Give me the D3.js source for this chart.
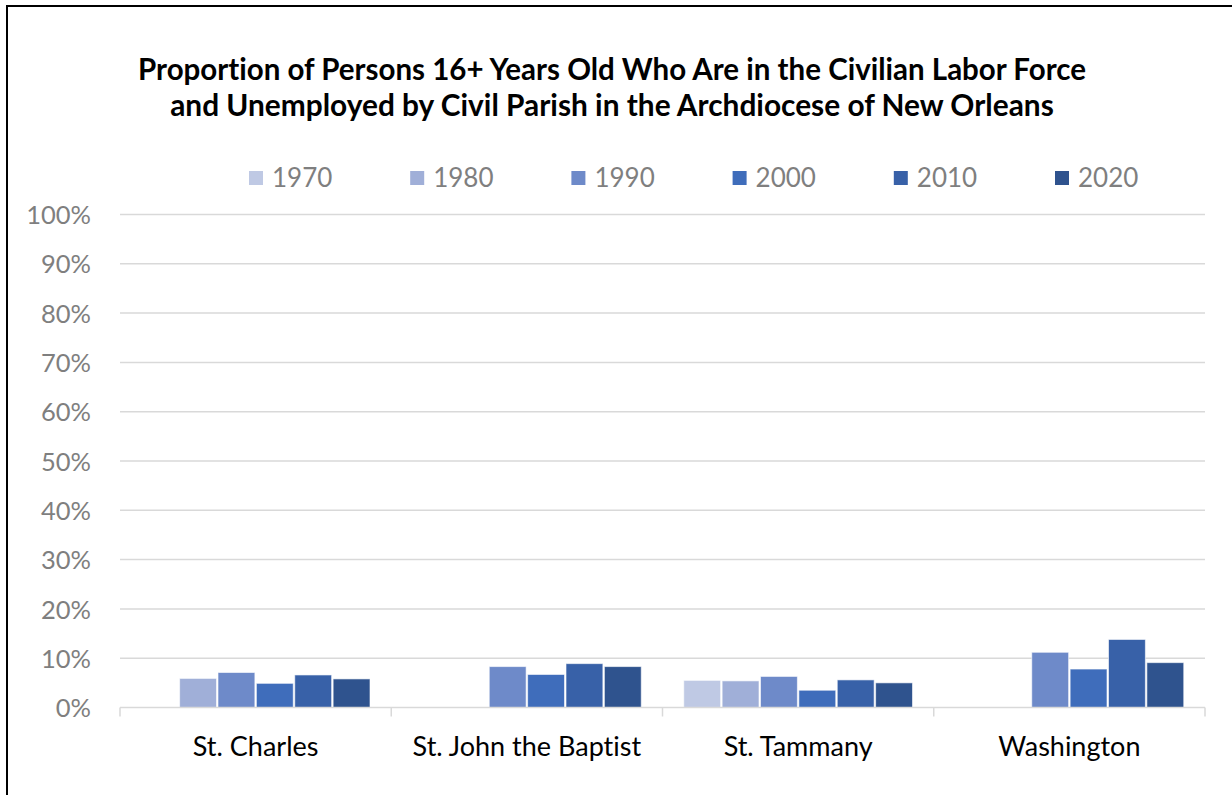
<!DOCTYPE html>
<html>
<head>
<meta charset="utf-8">
<script src="https://cdn.jsdelivr.net/npm/d3@7"></script>
<style>
  html, body { margin: 0; padding: 0; background: #fff; }
  svg { display: block; }
  text { font-family: Lato, "Open Sans", sans-serif; font-variant-ligatures: none; font-feature-settings: "liga" 0; }
</style>
</head>
<body>
<svg id="chart" width="1232" height="795"></svg>
<script>
const titleLines = [
  "Proportion of Persons 16+ Years Old Who Are in the Civilian Labor Force",
  "and Unemployed by Civil Parish in the Archdiocese of New Orleans"
];
const categories = ["St. Charles", "St. John the Baptist", "St. Tammany", "Washington"];
const seriesNames = ["1970", "1980", "1990", "2000", "2010", "2020"];
const seriesColors = ["#bfc9e4", "#a0afd8", "#6e8ac9", "#3f6dbb", "#3861a8", "#2f538e"];
// values in percent, one array per year, indexed by category; null = no bar
const v1970 = [null, null, 5.5, null];
const v1980 = [5.9, null, 5.4, null];
const v1990 = [7.1, 8.3, 6.3, 11.2];
const v2000 = [4.9, 6.7, 3.5, 7.8];
const v2010 = [6.6, 8.9, 5.6, 13.8];
const v2020 = [5.8, 8.3, 5.0, 9.1];
const seriesValues = [v1970, v1980, v1990, v2000, v2010, v2020];
const yTicks = [0, 10, 20, 30, 40, 50, 60, 70, 80, 90, 100];

const svg = d3.select("#chart");

// outer frame
svg.append("rect")
  .attr("x", 7).attr("y", 6)
  .attr("width", 1240).attr("height", 800)
  .attr("fill", "none").attr("stroke", "#000").attr("stroke-width", 2);

const plot = { left: 120, right: 1205, top: 214.5, bottom: 707.5 };

const x0 = d3.scaleBand().domain(categories).range([plot.left, plot.right]).padding(0);
const innerPad = 20.5;
const x1 = d3.scaleBand().domain(seriesNames)
  .range([innerPad, x0.bandwidth() - innerPad]).padding(0);
const y = d3.scaleLinear().domain([0, 100]).range([plot.bottom, plot.top]);

// gridlines
svg.append("g").selectAll("line").data(yTicks.filter(t => t > 0)).join("line")
  .attr("x1", plot.left).attr("x2", plot.right)
  .attr("y1", d => y(d)).attr("y2", d => y(d))
  .attr("stroke", "#d9d9d9").attr("stroke-width", 1.5);

// y-axis labels
const yAxis = d3.axisLeft(y).tickValues(yTicks).tickFormat(d => d + "%").tickSize(0).tickPadding(0);
const yg = svg.append("g").attr("transform", `translate(91,0)`).call(yAxis);
yg.select(".domain").remove();
yg.selectAll("text")
  .attr("fill", "#7f7f7f")
  .style("font-size", "25.5px")
  .style("font-family", "Lato, sans-serif")
  .attr("dy", "0.36em");

// bars
const groups = svg.append("g").selectAll("g").data(categories).join("g")
  .attr("transform", d => `translate(${x0(d)},0)`);
groups.each(function(cat, ci) {
  const bars = seriesNames.map((s, si) => ({ s, si, v: seriesValues[si][ci] }))
    .filter(d => d.v !== null);
  d3.select(this).selectAll("rect").data(bars).join("rect")
    .attr("x", d => x1(d.s) + 0.75)
    .attr("width", x1.bandwidth() - 1.5)
    .attr("y", d => y(d.v))
    .attr("height", d => y(0) - y(d.v))
    .attr("fill", d => seriesColors[d.si])
    .attr("stroke", "#ffffff").attr("stroke-opacity", 0.6).attr("stroke-width", 1);
});

// x axis
const xAxis = d3.axisBottom(x0).tickSize(0).tickPadding(0);
const xg = svg.append("g").attr("transform", `translate(0,${plot.bottom})`).call(xAxis);
xg.select(".domain").attr("stroke", "#d9d9d9").attr("stroke-width", 1.5)
  .attr("d", `M${plot.left},0H${plot.right}`);
xg.selectAll("text")
  .attr("fill", "#000")
  .attr("y", 48).attr("dy", 0)
  .style("font-size", "27px")
  .style("font-family", "Lato, sans-serif");
// category boundary ticks
const bounds = categories.map(c => x0(c)).concat([plot.right]);
svg.append("g").selectAll("line").data(bounds).join("line")
  .attr("x1", d => d).attr("x2", d => d)
  .attr("y1", plot.bottom).attr("y2", plot.bottom + 9)
  .attr("stroke", "#d9d9d9").attr("stroke-width", 1.5);

// title
const titleTargets = [948, 884];
const titleY = [80, 116];
titleLines.forEach((t, i) => {
  const el = svg.append("text")
    .attr("x", 612).attr("y", titleY[i])
    .attr("text-anchor", "middle")
    .attr("font-weight", "bold")
    .style("font-size", "24px")
    .attr("fill", "#000")
    .text(t);
  const w = el.node().getComputedTextLength();
  const fs = 24 * titleTargets[i] / w;
  el.style("font-size", Math.min(Math.max(fs, 20), 31) + "px");
});

// legend
const legendX = d3.scalePoint().domain(seriesNames).range([249, 1055]);
const lg = svg.append("g").selectAll("g").data(seriesNames).join("g")
  .attr("transform", d => `translate(${legendX(d)},0)`);
lg.append("rect")
  .attr("x", 0).attr("y", 171).attr("width", 14).attr("height", 14)
  .attr("fill", (d, i) => seriesColors[i]);
lg.append("text")
  .attr("x", 23).attr("y", 187)
  .attr("fill", "#7f7f7f")
  .style("font-size", "26px")
  .text(d => d);
</script>
</body>
</html>
